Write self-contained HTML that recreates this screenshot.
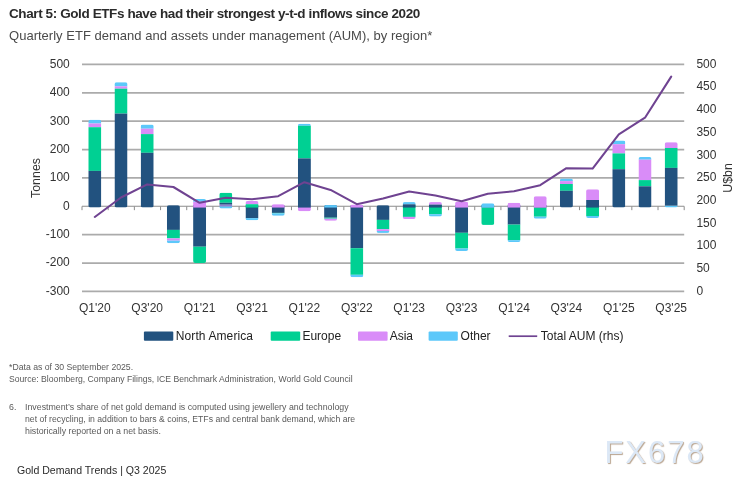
<!DOCTYPE html>
<html><head><meta charset="utf-8"><style>
html,body{margin:0;padding:0;background:#fff;}
body{filter:blur(0.4px);width:734px;height:488px;position:relative;overflow:hidden;font-family:"Liberation Sans",sans-serif;}
.t{position:absolute;white-space:nowrap;line-height:1;}
svg{position:absolute;left:0;top:0;}
.ax{font-family:"Liberation Sans",sans-serif;font-size:12px;fill:#333;}
.lg{font-family:"Liberation Sans",sans-serif;font-size:12px;fill:#222;}
</style></head><body>
<div class="t" id="title" style="left:9px;top:7.4px;font-size:13.5px;font-weight:bold;color:#2b2b2b;letter-spacing:-0.4px;">Chart 5: Gold ETFs have had their strongest y-t-d inflows since 2020</div>
<div class="t" id="sub" style="left:9px;top:29px;font-size:13px;color:#4a4a4a;letter-spacing:0.02px;">Quarterly ETF demand and assets under management (AUM), by region*</div>
<svg width="734" height="488" viewBox="0 0 734 488">
<line x1="82.0" y1="64.41" x2="684.2" y2="64.41" stroke="#ababab" stroke-width="1.7"/>
<line x1="82.0" y1="92.79" x2="684.2" y2="92.79" stroke="#ababab" stroke-width="1.7"/>
<line x1="82.0" y1="121.17" x2="684.2" y2="121.17" stroke="#ababab" stroke-width="1.7"/>
<line x1="82.0" y1="149.55" x2="684.2" y2="149.55" stroke="#ababab" stroke-width="1.7"/>
<line x1="82.0" y1="177.93" x2="684.2" y2="177.93" stroke="#ababab" stroke-width="1.7"/>
<line x1="82.0" y1="234.69" x2="684.2" y2="234.69" stroke="#ababab" stroke-width="1.7"/>
<line x1="82.0" y1="263.07" x2="684.2" y2="263.07" stroke="#ababab" stroke-width="1.7"/>
<line x1="82.0" y1="291.45" x2="684.2" y2="291.45" stroke="#ababab" stroke-width="1.7"/>
<line x1="82.0" y1="206.26" x2="684.2" y2="206.26" stroke="#8c8c8c" stroke-width="1.1"/>
<line x1="82.00" y1="206.36" x2="82.00" y2="210.16" stroke="#8c8c8c" stroke-width="1"/>
<line x1="108.18" y1="206.36" x2="108.18" y2="210.16" stroke="#8c8c8c" stroke-width="1"/>
<line x1="134.37" y1="206.36" x2="134.37" y2="210.16" stroke="#8c8c8c" stroke-width="1"/>
<line x1="160.55" y1="206.36" x2="160.55" y2="210.16" stroke="#8c8c8c" stroke-width="1"/>
<line x1="186.73" y1="206.36" x2="186.73" y2="210.16" stroke="#8c8c8c" stroke-width="1"/>
<line x1="212.91" y1="206.36" x2="212.91" y2="210.16" stroke="#8c8c8c" stroke-width="1"/>
<line x1="239.10" y1="206.36" x2="239.10" y2="210.16" stroke="#8c8c8c" stroke-width="1"/>
<line x1="265.28" y1="206.36" x2="265.28" y2="210.16" stroke="#8c8c8c" stroke-width="1"/>
<line x1="291.46" y1="206.36" x2="291.46" y2="210.16" stroke="#8c8c8c" stroke-width="1"/>
<line x1="317.64" y1="206.36" x2="317.64" y2="210.16" stroke="#8c8c8c" stroke-width="1"/>
<line x1="343.83" y1="206.36" x2="343.83" y2="210.16" stroke="#8c8c8c" stroke-width="1"/>
<line x1="370.01" y1="206.36" x2="370.01" y2="210.16" stroke="#8c8c8c" stroke-width="1"/>
<line x1="396.19" y1="206.36" x2="396.19" y2="210.16" stroke="#8c8c8c" stroke-width="1"/>
<line x1="422.37" y1="206.36" x2="422.37" y2="210.16" stroke="#8c8c8c" stroke-width="1"/>
<line x1="448.56" y1="206.36" x2="448.56" y2="210.16" stroke="#8c8c8c" stroke-width="1"/>
<line x1="474.74" y1="206.36" x2="474.74" y2="210.16" stroke="#8c8c8c" stroke-width="1"/>
<line x1="500.92" y1="206.36" x2="500.92" y2="210.16" stroke="#8c8c8c" stroke-width="1"/>
<line x1="527.10" y1="206.36" x2="527.10" y2="210.16" stroke="#8c8c8c" stroke-width="1"/>
<line x1="553.29" y1="206.36" x2="553.29" y2="210.16" stroke="#8c8c8c" stroke-width="1"/>
<line x1="579.47" y1="206.36" x2="579.47" y2="210.16" stroke="#8c8c8c" stroke-width="1"/>
<line x1="605.65" y1="206.36" x2="605.65" y2="210.16" stroke="#8c8c8c" stroke-width="1"/>
<line x1="631.83" y1="206.36" x2="631.83" y2="210.16" stroke="#8c8c8c" stroke-width="1"/>
<line x1="658.02" y1="206.36" x2="658.02" y2="210.16" stroke="#8c8c8c" stroke-width="1"/>
<line x1="684.20" y1="206.36" x2="684.20" y2="210.16" stroke="#8c8c8c" stroke-width="1"/>
<defs>
<clipPath id="c0"><rect x="88.30" y="119.70" width="13.0" height="87.86" rx="2"/></clipPath>
<clipPath id="c1"><rect x="114.50" y="82.20" width="13.0" height="125.36" rx="2"/></clipPath>
<clipPath id="c2"><rect x="140.70" y="124.60" width="13.0" height="82.96" rx="2"/></clipPath>
<clipPath id="c3"><rect x="166.90" y="205.16" width="13.0" height="38.04" rx="2"/></clipPath>
<clipPath id="c4"><rect x="193.10" y="199.00" width="13.0" height="64.00" rx="2"/></clipPath>
<clipPath id="c5"><rect x="219.30" y="192.70" width="13.0" height="15.90" rx="2"/></clipPath>
<clipPath id="c6"><rect x="245.50" y="200.90" width="13.0" height="19.40" rx="2"/></clipPath>
<clipPath id="c7"><rect x="271.70" y="204.20" width="13.0" height="11.60" rx="2"/></clipPath>
<clipPath id="c8"><rect x="297.90" y="123.70" width="13.0" height="87.60" rx="2"/></clipPath>
<clipPath id="c9"><rect x="324.10" y="205.10" width="13.0" height="15.70" rx="2"/></clipPath>
<clipPath id="c10"><rect x="350.30" y="204.60" width="13.0" height="72.60" rx="2"/></clipPath>
<clipPath id="c11"><rect x="376.50" y="205.16" width="13.0" height="27.74" rx="2"/></clipPath>
<clipPath id="c12"><rect x="402.70" y="202.10" width="13.0" height="16.90" rx="2"/></clipPath>
<clipPath id="c13"><rect x="428.90" y="202.10" width="13.0" height="14.50" rx="2"/></clipPath>
<clipPath id="c14"><rect x="455.10" y="201.60" width="13.0" height="49.40" rx="2"/></clipPath>
<clipPath id="c15"><rect x="481.30" y="203.30" width="13.0" height="21.60" rx="2"/></clipPath>
<clipPath id="c16"><rect x="507.50" y="202.80" width="13.0" height="39.30" rx="2"/></clipPath>
<clipPath id="c17"><rect x="533.70" y="196.20" width="13.0" height="22.50" rx="2"/></clipPath>
<clipPath id="c18"><rect x="559.90" y="178.50" width="13.0" height="29.06" rx="2"/></clipPath>
<clipPath id="c19"><rect x="586.10" y="189.30" width="13.0" height="28.80" rx="2"/></clipPath>
<clipPath id="c20"><rect x="612.30" y="140.50" width="13.0" height="67.06" rx="2"/></clipPath>
<clipPath id="c21"><rect x="638.50" y="157.00" width="13.0" height="50.56" rx="2"/></clipPath>
<clipPath id="c22"><rect x="664.70" y="142.20" width="13.0" height="65.30" rx="2"/></clipPath>
</defs>
<g clip-path="url(#c0)">
<rect x="88.30" y="119.70" width="13.0" height="3.80" fill="#5cc8fa"/>
<rect x="88.30" y="123.50" width="13.0" height="3.70" fill="#d98cf8"/>
<rect x="88.30" y="127.20" width="13.0" height="43.70" fill="#00d093"/>
<rect x="88.30" y="170.90" width="13.0" height="36.66" fill="#22527f"/>
</g>
<g clip-path="url(#c1)">
<rect x="114.50" y="82.20" width="13.0" height="4.10" fill="#5cc8fa"/>
<rect x="114.50" y="86.30" width="13.0" height="2.40" fill="#d98cf8"/>
<rect x="114.50" y="88.70" width="13.0" height="24.90" fill="#00d093"/>
<rect x="114.50" y="113.60" width="13.0" height="93.96" fill="#22527f"/>
</g>
<g clip-path="url(#c2)">
<rect x="140.70" y="124.60" width="13.0" height="4.10" fill="#5cc8fa"/>
<rect x="140.70" y="128.70" width="13.0" height="5.40" fill="#d98cf8"/>
<rect x="140.70" y="134.10" width="13.0" height="18.70" fill="#00d093"/>
<rect x="140.70" y="152.80" width="13.0" height="54.76" fill="#22527f"/>
</g>
<g clip-path="url(#c3)">
<rect x="166.90" y="205.16" width="13.0" height="24.74" fill="#22527f"/>
<rect x="166.90" y="229.90" width="13.0" height="8.50" fill="#00d093"/>
<rect x="166.90" y="238.40" width="13.0" height="2.20" fill="#d98cf8"/>
<rect x="166.90" y="240.60" width="13.0" height="2.60" fill="#5cc8fa"/>
</g>
<g clip-path="url(#c4)">
<rect x="193.10" y="205.16" width="13.0" height="41.54" fill="#22527f"/>
<rect x="193.10" y="246.70" width="13.0" height="16.30" fill="#00d093"/>
<rect x="193.10" y="199.00" width="13.0" height="2.80" fill="#5cc8fa"/>
<rect x="193.10" y="201.80" width="13.0" height="5.76" fill="#d98cf8"/>
</g>
<g clip-path="url(#c5)">
<rect x="219.30" y="206.30" width="13.0" height="2.30" fill="#5cc8fa"/>
<rect x="219.30" y="192.70" width="13.0" height="10.10" fill="#00d093"/>
<rect x="219.30" y="202.80" width="13.0" height="1.90" fill="#22527f"/>
<rect x="219.30" y="204.70" width="13.0" height="1.60" fill="#8f7fd0"/>
</g>
<g clip-path="url(#c6)">
<rect x="245.50" y="205.16" width="13.0" height="12.94" fill="#22527f"/>
<rect x="245.50" y="218.10" width="13.0" height="2.20" fill="#5cc8fa"/>
<rect x="245.50" y="200.90" width="13.0" height="3.30" fill="#d98cf8"/>
<rect x="245.50" y="204.20" width="13.0" height="3.36" fill="#00d093"/>
</g>
<g clip-path="url(#c7)">
<rect x="271.70" y="205.16" width="13.0" height="7.74" fill="#22527f"/>
<rect x="271.70" y="212.90" width="13.0" height="0.50" fill="#00d093"/>
<rect x="271.70" y="213.40" width="13.0" height="2.40" fill="#5cc8fa"/>
<rect x="271.70" y="204.20" width="13.0" height="3.36" fill="#d98cf8"/>
</g>
<g clip-path="url(#c8)">
<rect x="297.90" y="205.16" width="13.0" height="6.14" fill="#d98cf8"/>
<rect x="297.90" y="123.70" width="13.0" height="2.10" fill="#5cc8fa"/>
<rect x="297.90" y="125.80" width="13.0" height="32.60" fill="#00d093"/>
<rect x="297.90" y="158.40" width="13.0" height="49.16" fill="#22527f"/>
</g>
<g clip-path="url(#c9)">
<rect x="324.10" y="205.16" width="13.0" height="12.54" fill="#22527f"/>
<rect x="324.10" y="217.70" width="13.0" height="1.00" fill="#00d093"/>
<rect x="324.10" y="218.70" width="13.0" height="2.10" fill="#d98cf8"/>
<rect x="324.10" y="205.10" width="13.0" height="2.46" fill="#5cc8fa"/>
</g>
<g clip-path="url(#c10)">
<rect x="350.30" y="205.16" width="13.0" height="43.04" fill="#22527f"/>
<rect x="350.30" y="248.20" width="13.0" height="26.60" fill="#00d093"/>
<rect x="350.30" y="274.80" width="13.0" height="2.40" fill="#5cc8fa"/>
<rect x="350.30" y="204.60" width="13.0" height="2.96" fill="#d98cf8"/>
</g>
<g clip-path="url(#c11)">
<rect x="376.50" y="205.16" width="13.0" height="14.74" fill="#22527f"/>
<rect x="376.50" y="219.90" width="13.0" height="9.30" fill="#00d093"/>
<rect x="376.50" y="229.20" width="13.0" height="1.80" fill="#d98cf8"/>
<rect x="376.50" y="231.00" width="13.0" height="1.90" fill="#5cc8fa"/>
</g>
<g clip-path="url(#c12)">
<rect x="402.70" y="205.16" width="13.0" height="11.74" fill="#00d093"/>
<rect x="402.70" y="216.90" width="13.0" height="2.10" fill="#d98cf8"/>
<rect x="402.70" y="202.10" width="13.0" height="2.20" fill="#5cc8fa"/>
<rect x="402.70" y="204.30" width="13.0" height="3.26" fill="#22527f"/>
</g>
<g clip-path="url(#c13)">
<rect x="428.90" y="205.16" width="13.0" height="9.04" fill="#00d093"/>
<rect x="428.90" y="214.20" width="13.0" height="2.40" fill="#5cc8fa"/>
<rect x="428.90" y="202.10" width="13.0" height="2.50" fill="#d98cf8"/>
<rect x="428.90" y="204.60" width="13.0" height="2.96" fill="#22527f"/>
</g>
<g clip-path="url(#c14)">
<rect x="455.10" y="205.16" width="13.0" height="27.64" fill="#22527f"/>
<rect x="455.10" y="232.80" width="13.0" height="15.70" fill="#00d093"/>
<rect x="455.10" y="248.50" width="13.0" height="2.50" fill="#5cc8fa"/>
<rect x="455.10" y="201.60" width="13.0" height="5.96" fill="#d98cf8"/>
</g>
<g clip-path="url(#c15)">
<rect x="481.30" y="205.16" width="13.0" height="2.44" fill="#22527f"/>
<rect x="481.30" y="207.60" width="13.0" height="17.30" fill="#00d093"/>
<rect x="481.30" y="203.30" width="13.0" height="4.26" fill="#5cc8fa"/>
</g>
<g clip-path="url(#c16)">
<rect x="507.50" y="205.16" width="13.0" height="19.44" fill="#22527f"/>
<rect x="507.50" y="224.60" width="13.0" height="15.60" fill="#00d093"/>
<rect x="507.50" y="240.20" width="13.0" height="1.90" fill="#5cc8fa"/>
<rect x="507.50" y="202.80" width="13.0" height="4.76" fill="#d98cf8"/>
</g>
<g clip-path="url(#c17)">
<rect x="533.70" y="205.16" width="13.0" height="2.54" fill="#22527f"/>
<rect x="533.70" y="207.70" width="13.0" height="9.00" fill="#00d093"/>
<rect x="533.70" y="216.70" width="13.0" height="2.00" fill="#5cc8fa"/>
<rect x="533.70" y="196.20" width="13.0" height="11.36" fill="#d98cf8"/>
</g>
<g clip-path="url(#c18)">
<rect x="559.90" y="178.50" width="13.0" height="2.60" fill="#5cc8fa"/>
<rect x="559.90" y="181.10" width="13.0" height="2.90" fill="#d98cf8"/>
<rect x="559.90" y="184.00" width="13.0" height="6.80" fill="#00d093"/>
<rect x="559.90" y="190.80" width="13.0" height="16.76" fill="#22527f"/>
</g>
<g clip-path="url(#c19)">
<rect x="586.10" y="205.16" width="13.0" height="10.84" fill="#00d093"/>
<rect x="586.10" y="216.00" width="13.0" height="2.10" fill="#5cc8fa"/>
<rect x="586.10" y="189.30" width="13.0" height="10.70" fill="#d98cf8"/>
<rect x="586.10" y="200.00" width="13.0" height="7.56" fill="#22527f"/>
</g>
<g clip-path="url(#c20)">
<rect x="612.30" y="140.50" width="13.0" height="3.70" fill="#5cc8fa"/>
<rect x="612.30" y="144.20" width="13.0" height="9.20" fill="#d98cf8"/>
<rect x="612.30" y="153.40" width="13.0" height="15.80" fill="#00d093"/>
<rect x="612.30" y="169.20" width="13.0" height="38.36" fill="#22527f"/>
</g>
<g clip-path="url(#c21)">
<rect x="638.50" y="157.00" width="13.0" height="2.70" fill="#5cc8fa"/>
<rect x="638.50" y="159.70" width="13.0" height="20.40" fill="#d98cf8"/>
<rect x="638.50" y="180.10" width="13.0" height="6.20" fill="#00d093"/>
<rect x="638.50" y="186.30" width="13.0" height="21.26" fill="#22527f"/>
</g>
<g clip-path="url(#c22)">
<rect x="664.70" y="205.60" width="13.0" height="1.90" fill="#5cc8fa"/>
<rect x="664.70" y="142.20" width="13.0" height="5.80" fill="#d98cf8"/>
<rect x="664.70" y="148.00" width="13.0" height="19.90" fill="#00d093"/>
<rect x="664.70" y="167.90" width="13.0" height="37.70" fill="#22527f"/>
</g>
<polyline points="94.80,217.00 121.00,197.50 147.20,184.40 173.40,187.00 199.60,202.80 225.80,197.70 252.00,199.20 278.20,196.20 304.40,182.20 330.60,189.90 356.80,204.20 383.00,198.60 409.20,191.50 435.40,195.60 461.60,201.30 487.80,193.80 514.00,191.30 540.20,185.20 566.40,168.20 592.60,168.60 618.80,134.30 645.00,117.70 671.20,76.60" fill="none" stroke="#6f4391" stroke-width="2.05" stroke-linejoin="round" stroke-linecap="round"/>
<text x="69.8" y="67.76" text-anchor="end" class="ax">500</text>
<text x="69.8" y="96.14" text-anchor="end" class="ax">400</text>
<text x="69.8" y="124.52" text-anchor="end" class="ax">300</text>
<text x="69.8" y="152.90" text-anchor="end" class="ax">200</text>
<text x="69.8" y="181.28" text-anchor="end" class="ax">100</text>
<text x="69.8" y="209.66" text-anchor="end" class="ax">0</text>
<text x="69.8" y="238.04" text-anchor="end" class="ax">-100</text>
<text x="69.8" y="266.42" text-anchor="end" class="ax">-200</text>
<text x="69.8" y="294.80" text-anchor="end" class="ax">-300</text>
<text x="696.4" y="294.80" class="ax">0</text>
<text x="696.4" y="272.10" class="ax">50</text>
<text x="696.4" y="249.39" class="ax">100</text>
<text x="696.4" y="226.69" class="ax">150</text>
<text x="696.4" y="203.98" class="ax">200</text>
<text x="696.4" y="181.28" class="ax">250</text>
<text x="696.4" y="158.58" class="ax">300</text>
<text x="696.4" y="135.87" class="ax">350</text>
<text x="696.4" y="113.17" class="ax">400</text>
<text x="696.4" y="90.46" class="ax">450</text>
<text x="696.4" y="67.76" class="ax">500</text>
<text x="94.80" y="312.3" text-anchor="middle" class="ax">Q1'20</text>
<text x="147.20" y="312.3" text-anchor="middle" class="ax">Q3'20</text>
<text x="199.60" y="312.3" text-anchor="middle" class="ax">Q1'21</text>
<text x="252.00" y="312.3" text-anchor="middle" class="ax">Q3'21</text>
<text x="304.40" y="312.3" text-anchor="middle" class="ax">Q1'22</text>
<text x="356.80" y="312.3" text-anchor="middle" class="ax">Q3'22</text>
<text x="409.20" y="312.3" text-anchor="middle" class="ax">Q1'23</text>
<text x="461.60" y="312.3" text-anchor="middle" class="ax">Q3'23</text>
<text x="514.00" y="312.3" text-anchor="middle" class="ax">Q1'24</text>
<text x="566.40" y="312.3" text-anchor="middle" class="ax">Q3'24</text>
<text x="618.80" y="312.3" text-anchor="middle" class="ax">Q1'25</text>
<text x="671.20" y="312.3" text-anchor="middle" class="ax">Q3'25</text>
<text transform="translate(39.8,178) rotate(-90)" text-anchor="middle" class="ax" style="font-size:12.4px">Tonnes</text>
<text transform="translate(731.6,178) rotate(-90)" text-anchor="middle" class="ax" style="font-size:12.4px">U$bn</text>
<rect x="143.9" y="331.6" width="29.4" height="9.2" rx="1" fill="#22527f"/>
<text x="175.8" y="340" class="lg" style="letter-spacing:0.1px">North America</text>
<rect x="270.7" y="331.6" width="29.5" height="9.2" rx="1" fill="#00d093"/>
<text x="302.4" y="340" class="lg">Europe</text>
<rect x="358.0" y="331.6" width="29.6" height="9.2" rx="1" fill="#d98cf8"/>
<text x="389.7" y="340" class="lg">Asia</text>
<rect x="428.6" y="331.6" width="29.2" height="9.2" rx="1" fill="#5cc8fa"/>
<text x="460.6" y="340" class="lg">Other</text>
<line x1="508.7" y1="336.2" x2="537.2" y2="336.2" stroke="#6f4391" stroke-width="1.7"/>
<text x="540.8" y="340" class="lg">Total AUM (rhs)</text>
</svg>
<div class="t" id="f1" style="left:9px;top:362.7px;font-size:8.7px;color:#5a5a5a;">*Data as of 30 September 2025.</div>
<div class="t" id="f2" style="left:9px;top:374.7px;font-size:8.65px;color:#5a5a5a;">Source: Bloomberg, Company Filings, ICE Benchmark Administration, World Gold Council</div>
<div class="t" id="n6" style="left:9px;top:402.5px;font-size:8.8px;color:#5a5a5a;">6.</div>
<div class="t" id="n1" style="left:25px;top:402.5px;font-size:8.8px;color:#5a5a5a;">Investment’s share of net gold demand is computed using jewellery and technology</div>
<div class="t" id="n2" style="left:25px;top:414.9px;font-size:8.69px;color:#5a5a5a;">net of recycling, in addition to bars &amp; coins, ETFs and central bank demand, which are</div>
<div class="t" id="n3" style="left:25px;top:427.3px;font-size:8.8px;color:#5a5a5a;">historically reported on a net basis.</div>
<div class="t" id="foot" style="left:17px;top:465.1px;font-size:10.55px;color:#2a2a2a;">Gold Demand Trends | Q3 2025</div>
<div class="t" id="wm" style="left:604.4px;top:437.1px;font-size:31px;color:#dce8f6;letter-spacing:2.0px;text-shadow:1px 1px 1px #b9a48f;">FX678</div>
</body></html>
